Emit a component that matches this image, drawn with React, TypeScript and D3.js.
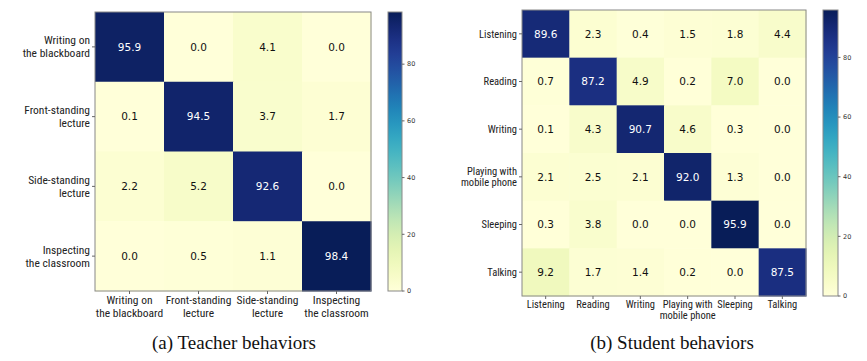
import React from 'react';
import * as d3 from 'd3';

// teacher confusion matrix (%)
const teacherLabels = ['Writing on\nthe blackboard', 'Front-standing\nlecture', 'Side-standing\nlecture', 'Inspecting\nthe classroom'];
const teacherValues = [
  [95.9, 0.0, 4.1, 0.0],
  [0.1, 94.5, 3.7, 1.7],
  [2.2, 5.2, 92.6, 0.0],
  [0.0, 0.5, 1.1, 98.4],
];

// student confusion matrix (%)
const studentLabels = ['Listening', 'Reading', 'Writing', 'Playing with\nmobile phone', 'Sleeping', 'Talking'];
const studentValues = [
  [89.6, 2.3, 0.4, 1.5, 1.8, 4.4],
  [0.7, 87.2, 4.9, 0.2, 7.0, 0.0],
  [0.1, 4.3, 90.7, 4.6, 0.3, 0.0],
  [2.1, 2.5, 2.1, 92.0, 1.3, 0.0],
  [0.3, 3.8, 0.0, 0.0, 95.9, 0.0],
  [9.2, 1.7, 1.4, 0.2, 0.0, 87.5],
];

const colorbarTicks = [0, 20, 40, 60, 80];

// no serif face in the sandbox, a narrow sans keeps the label widths close
const labelFont = "'Liberation Sans Narrow', 'Arial Narrow', 'Roboto Condensed', sans-serif";
const titleFont = "'Liberation Serif', 'DejaVu Serif', serif";
const sans = "'DejaVu Sans', sans-serif";

function Heatmap({ id, labels, values, box, cbar, title, titleX, labelSize, lineGap, xLabelY }) {
  const [x0, y0, x1, y1] = box;
  const vmax = d3.max(values.flat());
  const x = d3.scaleBand().domain(labels).range([x0, x1]);
  const y = d3.scaleBand().domain(labels).range([y0, y1]);
  const color = d3.scaleSequential(d3.interpolateYlGnBu).domain([0, vmax]);
  const cy = d3.scaleLinear().domain([0, vmax]).range([cbar[3], cbar[1]]);
  const stops = d3.range(0, 1.0001, 0.05);

  return (
    <g>
      <defs>
        <linearGradient id={id} x1="0" y1="1" x2="0" y2="0">
          {stops.map(s => (
            <stop key={s} offset={s} stopColor={d3.interpolateYlGnBu(s)} />
          ))}
        </linearGradient>
      </defs>
      {values.map((row, i) =>
        row.map((v, j) => (
          <g key={`${i}-${j}`}>
            <rect x={x(labels[j])} y={y(labels[i])} width={x.bandwidth() + 0.5} height={y.bandwidth() + 0.5} fill={color(v)} />
            <text
              x={x(labels[j]) + x.bandwidth() / 2}
              y={y(labels[i]) + y.bandwidth() / 2}
              dy="0.35em"
              textAnchor="middle"
              style={{ fontFamily: sans, fontSize: 10.5 }}
              fill={v > vmax / 2 ? '#fff' : '#111'}
            >
              {v.toFixed(1)}
            </text>
          </g>
        ))
      )}
      <rect x={x0} y={y0} width={x1 - x0} height={y1 - y0} fill="none" stroke="#888" strokeWidth={1} />
      {labels.map(l => {
        const lines = l.split('\n');
        const cyy = y(l) + y.bandwidth() / 2;
        const cx = x(l) + x.bandwidth() / 2;
        return (
          <g key={l}>
            <line x1={x0 - 3} x2={x0} y1={cyy} y2={cyy} stroke="#666" />
            {lines.map((t, k) => (
              <text key={k} x={x0 - 5} y={cyy + (k - (lines.length - 1) / 2) * lineGap} dy="0.35em" textAnchor="end" style={{ fontFamily: labelFont, fontSize: labelSize }} fill="#222">
                {t}
              </text>
            ))}
            <line x1={cx} x2={cx} y1={y1} y2={y1 + 3} stroke="#666" />
            {lines.map((t, k) => (
              <text key={'x' + k} x={cx} y={xLabelY + k * lineGap} dy="0.35em" textAnchor="middle" style={{ fontFamily: labelFont, fontSize: labelSize }} fill="#222">
                {t}
              </text>
            ))}
          </g>
        );
      })}
      <rect x={cbar[0]} y={cbar[1]} width={cbar[2] - cbar[0]} height={cbar[3] - cbar[1]} fill={`url(#${id})`} stroke="#888" strokeWidth={1} />
      {colorbarTicks.map(t => (
        <g key={t}>
          <line x1={cbar[2]} x2={cbar[2] + 2.5} y1={cy(t)} y2={cy(t)} stroke="#666" />
          <text x={cbar[2] + 5} y={cy(t)} dy="0.35em" style={{ fontFamily: sans, fontSize: 6.5 }} fill="#333">
            {t}
          </text>
        </g>
      ))}
      <text x={titleX} y={342} dy="0.35em" textAnchor="middle" style={{ fontFamily: titleFont, fontSize: 19 }} fill="#111">
        {title}
      </text>
    </g>
  );
}

export default function App() {
  return (
    <svg width={867} height={361} style={{ position: 'absolute', left: 0, top: 0, background: '#fff' }}>
      <rect width={867} height={361} fill="#fff" />
      <Heatmap
        id="cbA"
        labels={teacherLabels}
        values={teacherValues}
        box={[95, 12, 371, 291]}
        cbar={[388, 12, 402, 291]}
        title="(a) Teacher behaviors"
        titleX={234}
        labelSize={11.5}
        lineGap={13}
        xLabelY={300}
      />
      <Heatmap
        id="cbB"
        labels={studentLabels}
        values={studentValues}
        box={[522, 10, 806, 296]}
        cbar={[823, 10, 838, 296]}
        title="(b) Student behaviors"
        titleX={672}
        labelSize={10.5}
        lineGap={11.5}
        xLabelY={304}
      />
    </svg>
  );
}
